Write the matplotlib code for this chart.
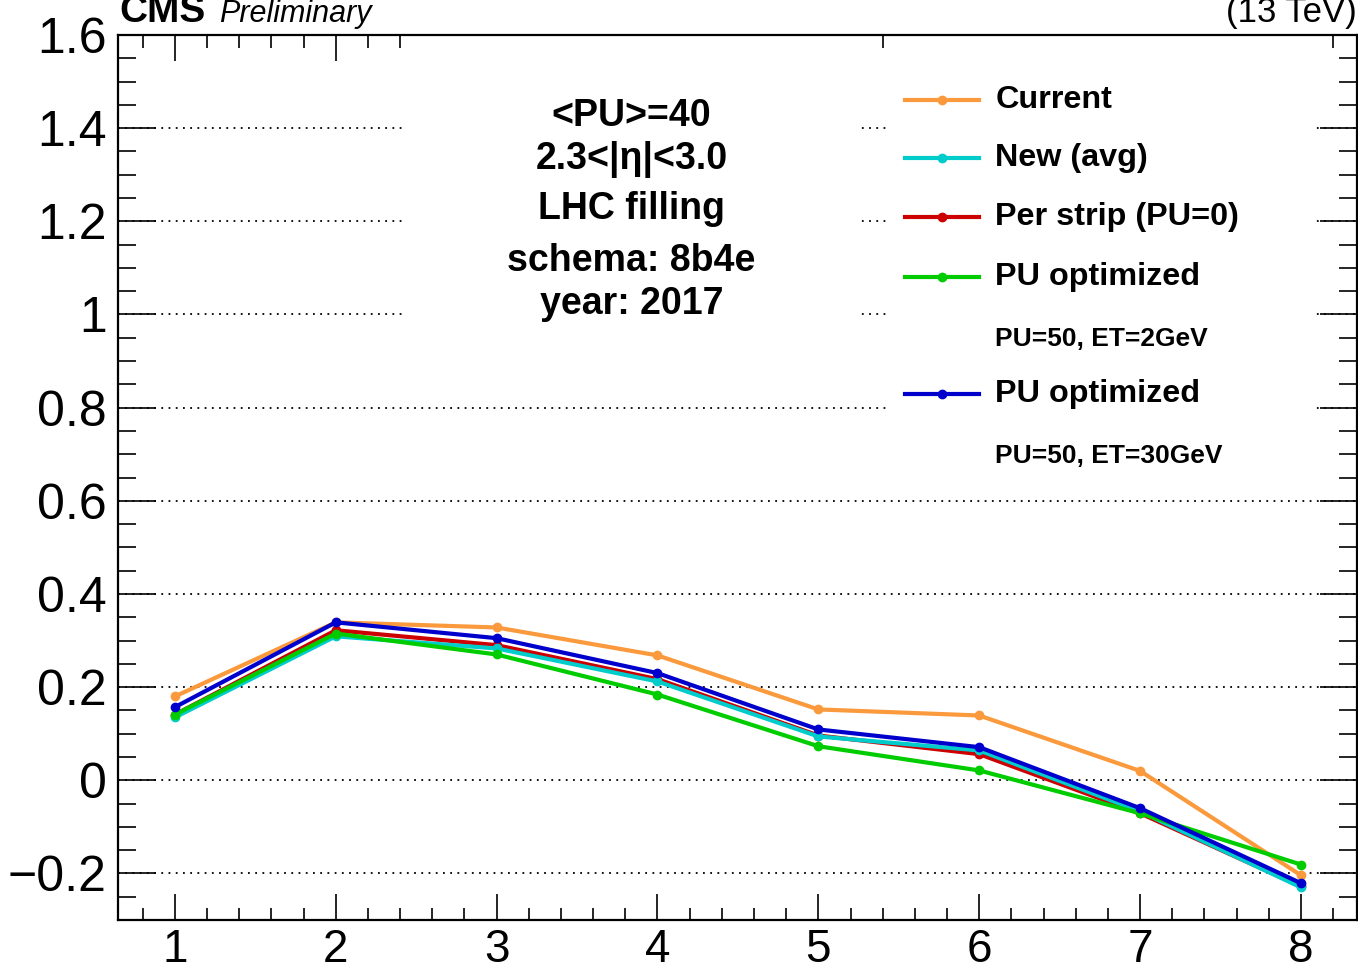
import matplotlib
matplotlib.use("Agg")
import matplotlib.pyplot as plt
from matplotlib.lines import Line2D
from matplotlib.patches import Rectangle
from matplotlib.ticker import MultipleLocator, FuncFormatter

plt.rcParams['font.family'] = ['Liberation Sans', 'DejaVu Sans']

# sample index
x = [1, 2, 3, 4, 5, 6, 7, 8]

current = [0.180, 0.339, 0.328, 0.268, 0.152, 0.139, 0.020, -0.204]
new_avg = [0.135, 0.309, 0.283, 0.212, 0.094, 0.064, -0.067, -0.230]
per_strip = [0.141, 0.322, 0.290, 0.217, 0.096, 0.056, -0.071, -0.228]
pu_opt_2 = [0.141, 0.315, 0.270, 0.184, 0.073, 0.021, -0.071, -0.181]
pu_opt_30 = [0.157, 0.339, 0.305, 0.230, 0.109, 0.071, -0.060, -0.221]

labels = ["Current", "New (avg)", "Per strip (PU=0)", "PU optimized", "PU optimized"]
sublabels = [None, None, None, "PU=50, ET=2GeV", "PU=50, ET=30GeV"]
colors = ["#fa9a3c", "#00cccc", "#cc0000", "#00cc00", "#0000cc"]
series = [current, new_avg, per_strip, pu_opt_2, pu_opt_30]
zorders = [3, 5, 4, 6, 7]

info_lines = ["<PU>=40", "2.3<|η|<3.0", "LHC filling", "schema: 8b4e", "year: 2017"]

fig = plt.figure(figsize=(13.58, 9.74), dpi=100)
ax = fig.add_axes([0.0869, 0.0555, 0.9125, 0.9085])

# grid first, covered later by the white text/legend boxes
ax.set_axisbelow(True)
ax.grid(axis='y', which='major', color='black', linestyle=(0, (1, 3)), linewidth=1.3)

for ys, c, z in zip(series, colors, zorders):
    ax.plot(x, ys, color=c, lw=3, marker='o', ms=6, zorder=z, solid_joinstyle='round')

ax.set_xlim(0.646, 8.35)
ax.set_ylim(-0.3, 1.6)

# white boxes hiding grid behind text and legend
ax.add_patch(Rectangle((0.2315, 0.66), 0.367, 0.34, transform=ax.transAxes,
                       facecolor='white', edgecolor='none', zorder=1))
ax.add_patch(Rectangle((0.620, 0.49), 0.345, 0.51, transform=ax.transAxes,
                       facecolor='white', edgecolor='none', zorder=1))

ax.xaxis.set_major_locator(MultipleLocator(1))
ax.xaxis.set_minor_locator(MultipleLocator(0.2))
ax.yaxis.set_major_locator(MultipleLocator(0.2))
ax.yaxis.set_minor_locator(MultipleLocator(0.05))
ax.yaxis.set_major_formatter(FuncFormatter(lambda v, p: ("%g" % round(v, 2)).replace('-', '\u2212')))
ax.xaxis.set_major_formatter(FuncFormatter(lambda v, p: "%g" % v))

ax.tick_params(axis='both', which='both', direction='in', top=True, right=True, width=1.2)
ax.tick_params(axis='x', which='major', length=19, labelsize=33, pad=6)
ax.tick_params(axis='x', which='minor', length=9)
ax.tick_params(axis='y', which='major', length=27, labelsize=36, pad=8)
ax.tick_params(axis='y', which='minor', length=13)
for s in ax.spines.values():
    s.set_linewidth(1.6)

# info block
info_y = [0.909, 0.859, 0.803, 0.745, 0.696]
for t, yy in zip(info_lines, info_y):
    ax.text(0.4145, yy, t, transform=ax.transAxes, ha='center', va='center',
            fontsize=27, fontweight='bold', zorder=8)

# legend, drawn as a column of handles and labels
leg_rows = [0.927, 0.861, 0.794, 0.727, 0.657, 0.594, 0.524]
row = 0
for lab, sub, c in zip(labels, sublabels, colors):
    yy = leg_rows[row]
    ax.add_line(Line2D([0.635, 0.695], [yy, yy], transform=ax.transAxes, color=c,
                       lw=3, zorder=8))
    ax.add_line(Line2D([0.665], [yy], transform=ax.transAxes, color=c, marker='o',
                       ms=6, zorder=8))
    ax.text(0.708, yy, lab, transform=ax.transAxes, ha='left', va='center',
            fontsize=23.3, fontweight='bold', zorder=8)
    row += 1
    if sub:
        ax.text(0.708, leg_rows[row], sub, transform=ax.transAxes, ha='left', va='center',
                fontsize=19, fontweight='bold', zorder=8)
        row += 1

fig.text(0.088, 0.977, "CMS", fontsize=28, fontweight='bold', va='baseline')
fig.text(0.161, 0.977, "Preliminary", fontsize=22, style='italic', va='baseline')
fig.text(0.999, 0.977, "(13 TeV)", fontsize=25, ha='right', va='baseline')

fig.savefig("out.png", dpi=100)
